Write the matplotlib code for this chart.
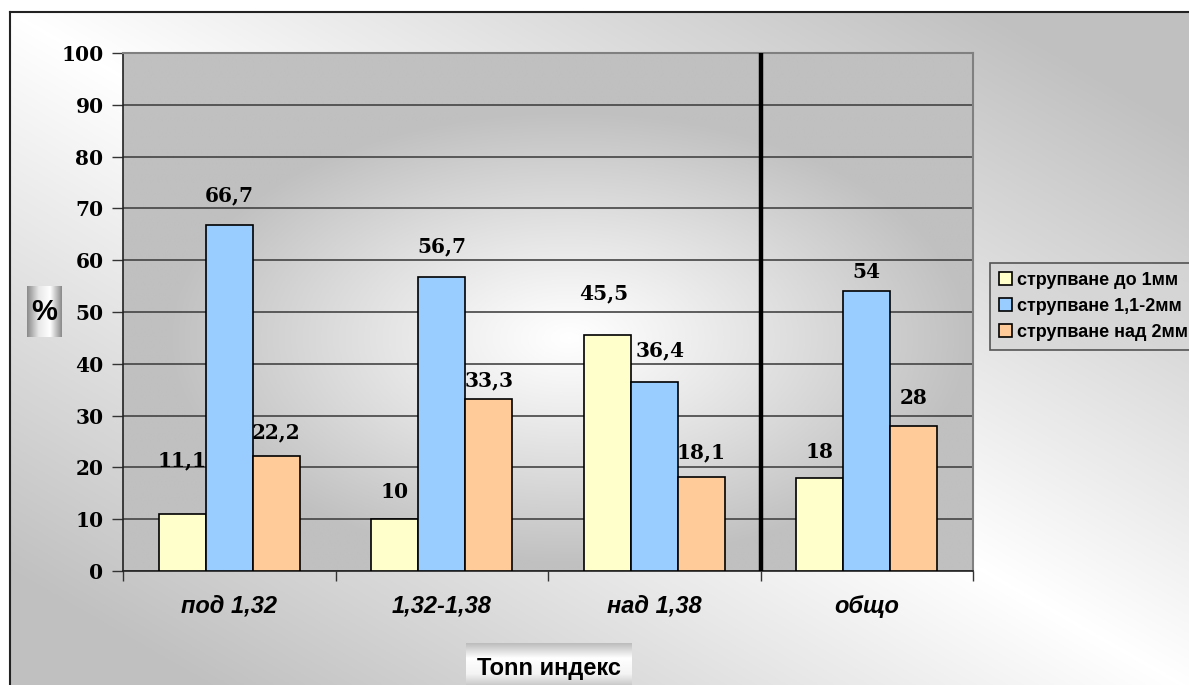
import numpy as np
import matplotlib
matplotlib.use("Agg")
import matplotlib.pyplot as plt
from matplotlib.colors import LinearSegmentedColormap

# ---- data -------------------------------------------------------------
categories = ["под 1,32", "1,32-1,38", "над 1,38", "общо"]
series_names = ["струпване до 1мм", "струпване 1,1-2мм", "струпване над 2мм"]
up_to_1mm = [11.1, 10, 45.5, 18]
from_1_1_to_2mm = [66.7, 56.7, 36.4, 54]
over_2mm = [22.2, 33.3, 18.1, 28]
y_ticks = [0, 10, 20, 30, 40, 50, 60, 70, 80, 90, 100]

# ---- styling ----------------------------------------------------------
colors = ["#FFFFCC", "#99CCFF", "#FFCC99"]
# label offsets (pixels) above each bar top, per series, per category
label_offsets = [
    [(0, 53), (0, 27), (-4, 42), (0, 26)],
    [(0, 30), (0, 31), (6, 32), (0, 19)],
    [(0, 24), (0, 18), (0, 25), (0, 28)],
]

W, H = 1189, 685
fig = plt.figure(figsize=(W / 100, H / 100), dpi=100)
fig.patch.set_facecolor("white")

gray_cmap = LinearSegmentedColormap.from_list("g", ["#FFFFFF", "#C0C0C0"])


def px_axes(x0, y0, x1, y1, z):
    """Axes placed by pixel corners (top-left origin)."""
    return fig.add_axes([x0 / W, 1 - y1 / H, (x1 - x0) / W, (y1 - y0) / H], zorder=z)


# chart-area background with diagonal gradient and border
bg = px_axes(10, 12, W + 10, H + 10, 0)
u = np.linspace(0, 1, 300)
v = np.linspace(0, 1, 200)
U, V = np.meshgrid(u, v)
bg.imshow(np.abs(U - V) * 1.2, cmap=gray_cmap, vmin=0, vmax=1,
          extent=[0, 1, 1, 0], aspect="auto", interpolation="bilinear")
bg.set_xlim(0, 1)
bg.set_ylim(1, 0)
bg.set_xticks([])
bg.set_yticks([])
for s in ["right", "bottom"]:
    bg.spines[s].set_visible(False)
for s in ["left", "top"]:
    bg.spines[s].set_linewidth(1.5)
    bg.spines[s].set_color("#222222")

# plot area
ax = px_axes(123, 53, 973, 571, 1)
x = np.arange(len(categories))
xx, yy = np.meshgrid(np.linspace(-0.5, 3.5, 400), np.linspace(0, 100, 300))
r = np.sqrt(((xx - 1.6) / 1.9) ** 2 + ((yy - 45) / 44) ** 2)
ax.imshow(np.clip(r, 0, 1) ** 1.1, cmap=gray_cmap, vmin=0, vmax=1,
          extent=[-0.5, 3.5, 0, 100], origin="lower", aspect="auto",
          interpolation="bilinear", zorder=0)

ax.set_xlim(-0.5, 3.5)
ax.set_ylim(0, 100)
ax.set_yticks(y_ticks)
ax.set_yticklabels([str(t) for t in y_ticks], fontfamily="DejaVu Serif",
                   fontweight="bold", fontsize=14.5)
ax.yaxis.grid(True, color="#444444", linewidth=1.2, zorder=1)
ax.set_axisbelow(True)
ax.tick_params(axis="y", direction="out", length=8, width=1, color="#333333", pad=6)

# category ticks at the boundaries, labels centred
ax.set_xticks(np.arange(-0.5, 4.0, 1.0))
ax.set_xticklabels([])
ax.set_xticks(x, minor=True)
ax.set_xticklabels(categories, minor=True, fontfamily="Liberation Sans",
                   fontweight="bold", fontstyle="italic", fontsize=17)
ax.tick_params(axis="x", which="major", direction="out", length=7, width=1, color="#333333")
ax.tick_params(axis="x", which="minor", length=0, pad=17)

for s in ["left", "bottom"]:
    ax.spines[s].set_color("#222222")
    ax.spines[s].set_linewidth(1.2)
for s in ["top", "right"]:
    ax.spines[s].set_color("#808080")
    ax.spines[s].set_linewidth(1.5)

bw = 0.221
all_series = [up_to_1mm, from_1_1_to_2mm, over_2mm]
for i, (vals, col, name) in enumerate(zip(all_series, colors, series_names)):
    pos = x + (i - 1) * bw
    ax.bar(pos, vals, width=bw, color=col, edgecolor="black",
           linewidth=1.2, label=name, zorder=3)
    for j, (p, val) in enumerate(zip(pos, vals)):
        txt = f"{val:g}".replace(".", ",")
        dx, dy = label_offsets[i][j]
        ax.annotate(txt, (p, val), xytext=(dx, dy), textcoords="offset pixels",
                    ha="center", va="center", fontfamily="DejaVu Serif",
                    fontweight="bold", fontsize=14.5, zorder=5)

# separator before the overall group
ax.axvline(2.5, color="black", linewidth=3.2, zorder=4)

# legend
leg = fig.legend(loc="upper left", bbox_to_anchor=(990 / W, 1 - 263 / H),
                 frameon=True, fancybox=False,
                 prop={"family": "Liberation Sans", "weight": "bold", "size": 13},
                 handlelength=0.7, handleheight=0.7, handletextpad=0.3,
                 labelspacing=0.5, borderpad=0.5, borderaxespad=0)
leg.get_frame().set_edgecolor("#333333")
leg.get_frame().set_linewidth(1.2)
leg.get_frame().set_facecolor("#D6D6D6")
leg.set_zorder(6)

# axis titles in shaded boxes
metal = LinearSegmentedColormap.from_list("m", ["#8A8A8A", "#E8E8E8", "#FFFFFF", "#8A8A8A"])

pbox = px_axes(27, 286, 62, 337, 7)
pbox.imshow(np.linspace(0, 1, 100)[None, :], cmap=metal, aspect="auto",
            extent=[0, 1, 0, 1], interpolation="bilinear")
pbox.set_axis_off()
pbox.text(0.5, 0.5, "%", ha="center", va="center", transform=pbox.transAxes,
          fontfamily="Liberation Sans", fontweight="bold", fontsize=21)

tbox = px_axes(466, 643, 632, 690, 7)
vert = LinearSegmentedColormap.from_list("v", ["#B8B8B8", "#FFFFFF", "#F4F4F4", "#B8B8B8"])
tbox.imshow(np.linspace(0, 1, 100)[:, None], cmap=vert, aspect="auto",
            extent=[0, 1, 0, 1], origin="upper", interpolation="bilinear")
tbox.set_axis_off()
tbox.text(0.5, 0.45, "Tonn индекс", ha="center", va="center", transform=tbox.transAxes,
          fontfamily="Liberation Sans", fontweight="bold", fontsize=17)

fig.savefig("out.png", dpi=100)
